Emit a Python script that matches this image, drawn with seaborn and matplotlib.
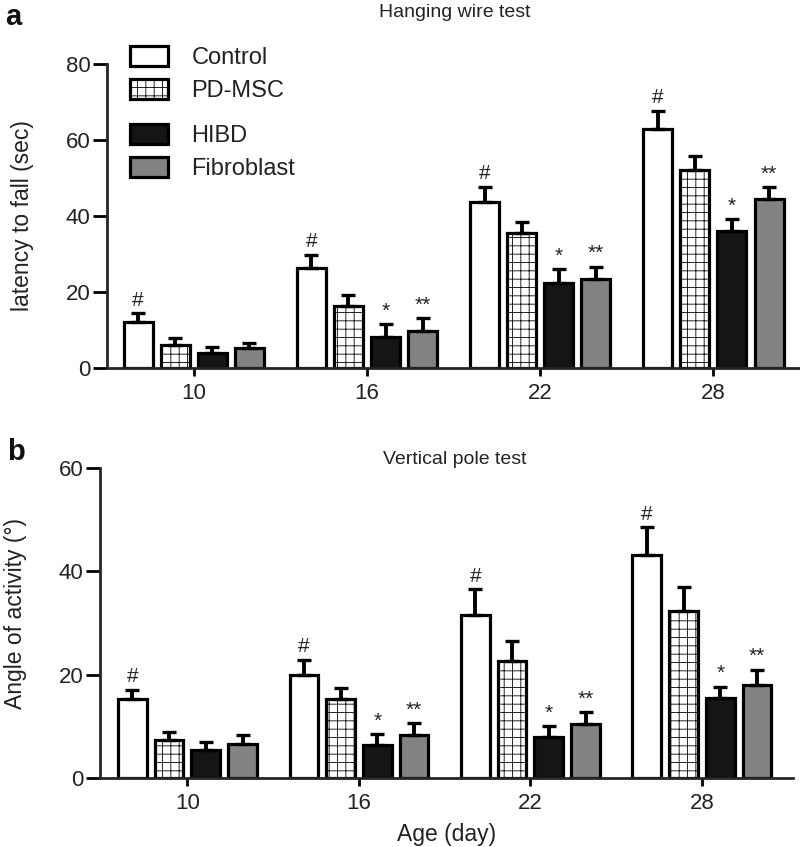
import matplotlib
matplotlib.use("Agg")
import matplotlib.pyplot as plt
from matplotlib.patches import Patch
import seaborn as sns
import pandas as pd
import numpy as np

days = ["10", "16", "22", "28"]
groups = ["Control", "PD-MSC", "HIBD", "Fibroblast"]

wire_control = [12.2, 26.2, 43.8, 62.9]
wire_pdmsc = [6.0, 16.3, 35.6, 52.1]
wire_hibd = [4.0, 8.1, 22.5, 36.1]
wire_fibro = [5.2, 9.7, 23.5, 44.4]
wire_control_err = [2.2, 3.5, 3.9, 4.8]
wire_pdmsc_err = [1.8, 2.8, 2.9, 3.7]
wire_hibd_err = [1.6, 3.4, 3.5, 3.0]
wire_fibro_err = [1.5, 3.4, 3.2, 3.1]

pole_control = [15.2, 20.0, 31.6, 43.2]
pole_pdmsc = [7.3, 15.3, 22.6, 32.4]
pole_hibd = [5.5, 6.3, 7.9, 15.5]
pole_fibro = [6.6, 8.4, 10.5, 17.9]
pole_control_err = [1.9, 2.9, 4.9, 5.3]
pole_pdmsc_err = [1.6, 2.2, 4.0, 4.6]
pole_hibd_err = [1.5, 2.2, 2.1, 2.2]
pole_fibro_err = [1.8, 2.2, 2.2, 3.0]

marks_control = ["#", "#", "#", "#"]
marks_pdmsc = ["", "", "", ""]
marks_hibd = ["", "*", "*", "*"]
marks_fibro = ["", "**", "**", "**"]

colors = ["#ffffff", "#ffffff", "#151515", "#828282"]
hatches = [None, "++", None, None]

sns.set_theme(style="ticks")
plt.rcParams["font.family"] = ["Liberation Sans", "DejaVu Sans"]
plt.rcParams["hatch.linewidth"] = 0.6

fig = plt.figure(figsize=(8.0, 8.47), dpi=100)
ax_a = fig.add_axes([0.134, 0.5655, 0.866, 0.359])
ax_b = fig.add_axes([0.125, 0.0815, 0.866, 0.366])


def draw_panel(ax, means, errs, marks, ylim, yticks, xlim):
    rows = []
    for g, vals in zip(groups, means):
        for d, v in zip(days, vals):
            rows.append({"day": d, "group": g, "value": v})
    df = pd.DataFrame(rows)
    sns.barplot(data=df, x="day", y="value", hue="group", order=days,
                hue_order=groups, palette=colors, width=0.857, gap=0.22,
                edgecolor="black", linewidth=2.3, errorbar=None,
                legend=False, ax=ax, saturation=1)
    bar_conts = list(ax.containers)[:len(groups)]
    for ci, cont in enumerate(bar_conts):
        for bi, bar in enumerate(cont):
            if hatches[ci]:
                bar.set_hatch(hatches[ci])
            x = bar.get_x() + bar.get_width() / 2
            h = bar.get_height()
            e = errs[ci][bi]
            ax.errorbar([x], [h], yerr=[[0], [e]], fmt="none", ecolor="black",
                        elinewidth=2.8, capsize=5, capthick=2.4, zorder=1)
            m = marks[ci][bi]
            if m:
                ax.text(x, h + e + ylim[1] * 0.012, m, ha="center", va="bottom",
                        fontsize=15, color="#222222")
    ax.set_ylim(*ylim)
    ax.set_xlim(*xlim)
    ax.set_yticks(yticks)
    sns.despine(ax=ax)
    for s in ["left", "bottom"]:
        ax.spines[s].set_linewidth(2.0)
    ax.tick_params(axis="y", width=2.0, length=10, pad=2, labelsize=16, color="black",
                   labelcolor="#222222")
    ax.tick_params(axis="x", width=2.0, length=6, pad=5, labelsize=16, color="black",
                   labelcolor="#222222")
    ax.set_xlabel("")
    ax.set_ylabel("")


draw_panel(ax_a,
           [wire_control, wire_pdmsc, wire_hibd, wire_fibro],
           [wire_control_err, wire_pdmsc_err, wire_hibd_err, wire_fibro_err],
           [marks_control, marks_pdmsc, marks_hibd, marks_fibro],
           (0, 80), [0, 20, 40, 60, 80], (-0.5, 3.5))
draw_panel(ax_b,
           [pole_control, pole_pdmsc, pole_hibd, pole_fibro],
           [pole_control_err, pole_pdmsc_err, pole_hibd_err, pole_fibro_err],
           [marks_control, marks_pdmsc, marks_hibd, marks_fibro],
           (0, 60), [0, 20, 40, 60], (-0.51, 3.53))

ax_a.set_ylabel("latency to fall (sec)", fontsize=16.5, color="#222222")
ax_a.yaxis.set_label_coords(-0.105, 0.5)
ax_b.set_ylabel("Angle of activity (°)", fontsize=16.5, color="#222222")
ax_b.yaxis.set_label_coords(-0.106, 0.532)
ax_b.set_xlabel("Age (day)", fontsize=16.5, color="#222222", labelpad=6)

handles = [Patch(facecolor=c, edgecolor="black", linewidth=2.3, hatch=h, label=g)
           for g, c, h in zip(groups, colors, hatches)]
leg_kw = dict(loc="upper left", frameon=False, fontsize=17, handlelength=1.6,
              handleheight=0.95, labelspacing=0.42, handletextpad=1.0,
              borderpad=0, borderaxespad=0, labelcolor="#222222")
leg1 = ax_a.legend(handles=handles[:2], bbox_to_anchor=(0.033, 1.06), **leg_kw)
ax_a.add_artist(leg1)
ax_a.legend(handles=handles[2:], bbox_to_anchor=(0.033, 0.804), **leg_kw)

fig.text(0.569, 0.995, "Hanging wire test", ha="center", va="top", fontsize=14,
         color="#222222")
fig.text(0.569, 0.467, "Vertical pole test", ha="center", va="top", fontsize=14,
         color="#222222")
fig.text(0.006, 0.997, "a", ha="left", va="top", fontsize=21, fontweight="bold",
         color="#111111")
fig.text(0.009, 0.483, "b", ha="left", va="top", fontsize=21, fontweight="bold",
         color="#111111")

fig.savefig("out.png", dpi=100)
